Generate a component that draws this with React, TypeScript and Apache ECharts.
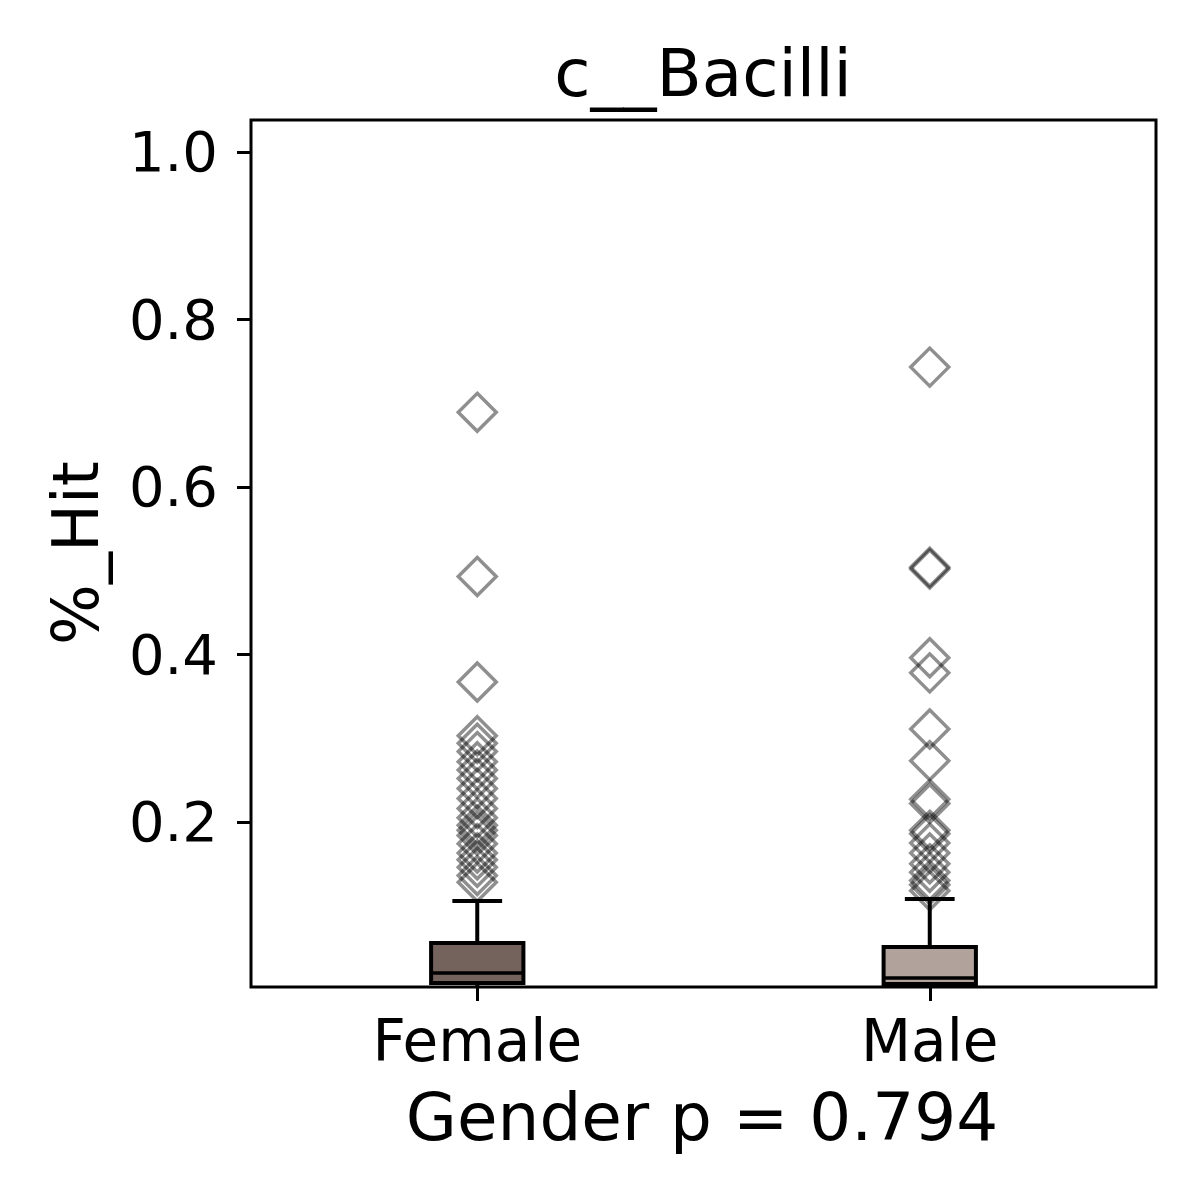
import React, { useEffect, useRef } from "react";
import * as echarts from "echarts";

const categories = ["Female", "Male"];
// [min, Q1, median, Q3, upper whisker]
const boxStats = [
  [0.001, 0.0078, 0.0197, 0.0555, 0.1057],
  [0.001, 0.0066, 0.0137, 0.0507, 0.108],
];
const femaleOutliers = [
  0.689, 0.493, 0.367, 0.303, 0.294, 0.284, 0.272, 0.262, 0.252, 0.24,
  0.228, 0.216, 0.205, 0.196, 0.19, 0.184, 0.174, 0.163, 0.155,
  0.146, 0.136, 0.128,
];
const maleOutliers = [
  0.743, 0.504, 0.502, 0.396, 0.378, 0.311, 0.273, 0.227, 0.222, 0.19, 0.186,
  0.175, 0.163, 0.15, 0.14, 0.13, 0.125, 0.118,
];
const yTicks = [0.2, 0.4, 0.6, 0.8, 1.0];
const boxColors = ["#74625d", "#b1a39b"];
const titleText = "c__Bacilli";
const xName = "Gender p = 0.794";
const yName = "%_Hit";

const FONT = "DejaVu Sans";

export default function App() {
  const ref = useRef<HTMLDivElement>(null);
  useEffect(() => {
    if (!ref.current) return;
    const chart = echarts.init(ref.current, null, { renderer: "svg" });
    const boxData = boxStats.map((s, i) => [i, ...s]);
    const outlierData: number[][] = [];
    femaleOutliers.forEach((v) => outlierData.push([0, v]));
    maleOutliers.forEach((v) => outlierData.push([1, v]));

    const option: any = {
      animation: false,
      backgroundColor: "#ffffff",
      grid: {
        left: 251,
        top: 120,
        width: 905,
        height: 867,
        show: true,
        borderColor: "#000",
        borderWidth: 3,
        backgroundColor: "transparent",
      },
      xAxis: {
        type: "category",
        data: categories,
        boundaryGap: true,
        axisLine: { show: false },
        axisTick: {
          show: true,
          alignWithLabel: true,
          length: 14,
          lineStyle: { color: "#000", width: 3 },
        },
        axisLabel: {
          color: "#000",
          fontSize: 58,
          fontFamily: FONT,
          margin: 25,
        },
        splitLine: { show: false },
      },
      yAxis: {
        type: "value",
        min: 0.003,
        max: 1.038,
        axisLine: { show: false },
        axisTick: {
          show: true,
          length: 14,
          lineStyle: { color: "#000", width: 3 },
          customValues: yTicks,
        },
        axisLabel: {
          color: "#000",
          fontSize: 56,
          fontFamily: FONT,
          margin: 33,
          customValues: yTicks,
          formatter: (v: number) => v.toFixed(1),
        },
        splitLine: { show: false },
      },
      graphic: [
        {
          type: "text",
          x: 703,
          y: 73,
          style: {
            text: titleText,
            fontSize: 66,
            fontFamily: FONT,
            fill: "#000",
            align: "center",
            verticalAlign: "middle",
          },
        },
        {
          type: "text",
          x: 702,
          y: 1117,
          style: {
            text: xName,
            fontSize: 66,
            fontFamily: FONT,
            fill: "#000",
            align: "center",
            verticalAlign: "middle",
          },
        },
        {
          type: "text",
          x: 76,
          y: 553,
          rotation: Math.PI / 2,
          style: {
            text: yName,
            fontSize: 64,
            fontFamily: FONT,
            fill: "#000",
            align: "center",
            verticalAlign: "middle",
          },
        },
      ],
      series: [
        {
          type: "custom",
          data: boxData,
          encode: { x: 0, y: [1, 2, 3, 4, 5] },
          clip: true,
          renderItem: (params: any, api: any) => {
            const idx = api.value(0);
            const vMin = api.value(1);
            const q1 = api.value(2);
            const med = api.value(3);
            const q3 = api.value(4);
            const vMax = api.value(5);
            const band = api.size([1, 0])[0];
            const halfBox = (band * 0.204) / 2;
            const halfCap = (band * 0.11) / 2;
            const pMin = api.coord([idx, vMin]);
            const pQ1 = api.coord([idx, q1]);
            const pMed = api.coord([idx, med]);
            const pQ3 = api.coord([idx, q3]);
            const pMax = api.coord([idx, vMax]);
            const cx = pMed[0];
            const ls = { stroke: "#000", lineWidth: 4 };
            return {
              type: "group",
              children: [
                {
                  type: "line",
                  shape: { x1: cx, y1: pQ3[1], x2: cx, y2: pMax[1] },
                  style: ls,
                },
                {
                  type: "line",
                  shape: { x1: cx, y1: pQ1[1], x2: cx, y2: pMin[1] },
                  style: ls,
                },
                {
                  type: "line",
                  shape: { x1: cx - halfCap, y1: pMax[1], x2: cx + halfCap, y2: pMax[1] },
                  style: ls,
                },
                {
                  type: "line",
                  shape: { x1: cx - halfCap, y1: pMin[1], x2: cx + halfCap, y2: pMin[1] },
                  style: ls,
                },
                {
                  type: "rect",
                  shape: {
                    x: cx - halfBox,
                    y: pQ3[1],
                    width: halfBox * 2,
                    height: pQ1[1] - pQ3[1],
                  },
                  style: { fill: boxColors[idx], stroke: "#000", lineWidth: 4 },
                },
                {
                  type: "line",
                  shape: { x1: cx - halfBox, y1: pMed[1], x2: cx + halfBox, y2: pMed[1] },
                  style: { stroke: "#000", lineWidth: 3.5 },
                },
              ],
            };
          },
          z: 2,
        },
        {
          type: "scatter",
          data: outlierData,
          symbol: "diamond",
          symbolSize: 38,
          itemStyle: {
            color: "rgba(0,0,0,0)",
            borderColor: "rgba(0,0,0,0.55)",
            borderWidth: 3.5,
          },
          z: 3,
        },
      ],
    };
    chart.setOption(option);
    return () => chart.dispose();
  }, []);
  return (
    <div
      ref={ref}
      style={{ position: "absolute", left: 0, top: 0, width: 1200, height: 1200 }}
    />
  );
}
